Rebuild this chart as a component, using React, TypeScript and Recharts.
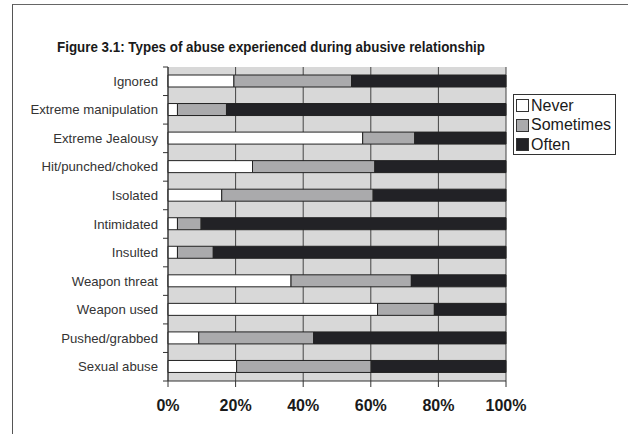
import { BarChart, Bar, XAxis, YAxis, CartesianGrid } from 'recharts';

const categories = [
  'Ignored',
  'Extreme manipulation',
  'Extreme Jealousy',
  'Hit/punched/choked',
  'Isolated',
  'Intimidated',
  'Insulted',
  'Weapon threat',
  'Weapon used',
  'Pushed/grabbed',
  'Sexual abuse',
];
const never = [19.5, 2.8, 57.6, 25.0, 15.9, 2.8, 2.8, 36.4, 62.0, 9.1, 20.3];
const sometimes = [34.8, 14.5, 15.4, 36.2, 44.8, 7.0, 10.6, 35.6, 16.8, 34.0, 39.8];
const often = [45.7, 82.7, 27.0, 38.8, 39.3, 90.2, 86.6, 28.0, 21.2, 56.9, 39.9];
const xTicks = [0, 20, 40, 60, 80, 100];

const series = [
  { key: 'never', name: 'Never', color: '#ffffff' },
  { key: 'sometimes', name: 'Sometimes', color: '#aaaaac' },
  { key: 'often', name: 'Often', color: '#222226' },
];

const data = categories.map((c, i) => ({
  category: c,
  never: never[i],
  sometimes: sometimes[i],
  often: often[i],
}));

const FONT = '"Liberation Sans", Arial, Helvetica, sans-serif';
const PLOT_LEFT = 168;
const PLOT_TOP = 67;
const PLOT_BOTTOM = 381;
const BAND = (PLOT_BOTTOM - PLOT_TOP) / categories.length;

function CategoryTick(props: any) {
  const { x, y, payload, index } = props;
  const last = index === categories.length - 1;
  return (
    <g>
      <text x={x} y={y} dy={4.5} textAnchor="end" fontSize={13.2} fill="#333" fontFamily={FONT}>
        {payload.value}
      </text>
      <line x1={PLOT_LEFT - 5} x2={PLOT_LEFT} y1={y - BAND / 2} y2={y - BAND / 2} stroke="#333" />
      {last && (
        <line x1={PLOT_LEFT - 5} x2={PLOT_LEFT} y1={y + BAND / 2} y2={y + BAND / 2} stroke="#333" />
      )}
    </g>
  );
}

export default function App() {
  return (
    <div style={{ position: 'absolute', left: 0, top: 0, width: 628, height: 434, background: '#fff', overflow: 'hidden' }}>
      {/* frame */}
      <div
        style={{
          position: 'absolute',
          left: 12,
          top: 4,
          width: 640,
          height: 460,
          borderLeft: '1.5px solid #555',
          borderTop: '1.5px solid #666',
        }}
      />
      <svg width={628} height={60} style={{ position: 'absolute', left: 0, top: 0 }}>
        <text
          x={57}
          y={52}
          fontSize={15}
          fontWeight="bold"
          fill="#1a1a1a"
          fontFamily={FONT}
          textLength={428}
          lengthAdjust="spacingAndGlyphs"
        >
          Figure 3.1: Types of abuse experienced during abusive relationship
        </text>
      </svg>
      <div style={{ position: 'absolute', left: 0, top: 0 }}>
        <BarChart
          width={628}
          height={434}
          data={data}
          layout="vertical"
          margin={{ top: PLOT_TOP, right: 122, bottom: 13, left: 8 }}
          barSize={12}
          style={{ fontFamily: FONT }}
        >
          <CartesianGrid horizontal={false} vertical={true} stroke="#444" fill="#d8d8d8" fillOpacity={1} />
          <XAxis
            type="number"
            domain={[0, 100]}
            ticks={xTicks}
            tickFormatter={(v: number) => `${v}%`}
            tick={{ fontSize: 16, fontWeight: 'bold', fill: '#1a1a1a' }}
            tickSize={6}
            tickMargin={13}
            axisLine={{ stroke: '#333' }}
            tickLine={{ stroke: '#333' }}
            height={40}
            interval={0}
          />
          <YAxis
            type="category"
            dataKey="category"
            width={160}
            tickSize={0}
            tickMargin={10}
            tickLine={false}
            axisLine={{ stroke: '#333' }}
            tick={<CategoryTick />}
            interval={0}
          />
          {series.map((s) => (
            <Bar
              key={s.key}
              dataKey={s.key}
              name={s.name}
              stackId="a"
              fill={s.color}
              stroke="#222"
              strokeWidth={1}
              isAnimationActive={false}
            />
          ))}
        </BarChart>
      </div>
      {/* legend */}
      <div
        style={{
          position: 'absolute',
          left: 513,
          top: 94,
          width: 103,
          height: 61,
          border: '1px solid #333',
          background: '#fff',
          fontFamily: FONT,
          fontSize: 16,
          color: '#1a1a1a',
          boxSizing: 'border-box',
          paddingTop: 1,
        }}
      >
        {series.map((s) => (
          <div key={s.key} style={{ display: 'flex', alignItems: 'center', height: 19.5, paddingLeft: 2 }}>
            <span
              style={{
                display: 'inline-block',
                width: 11,
                height: 11,
                background: s.color,
                border: '1px solid #333',
                marginRight: 2,
              }}
            />
            <span>{s.name}</span>
          </div>
        ))}
      </div>
    </div>
  );
}
